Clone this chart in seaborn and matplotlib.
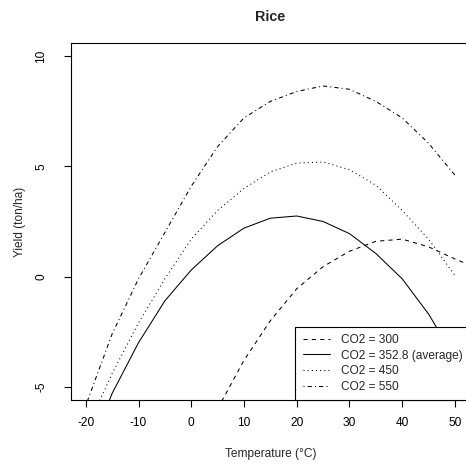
import numpy as np
import pandas as pd
import matplotlib
matplotlib.use("Agg")
import matplotlib.pyplot as plt
import seaborn as sns

# temperatura (°C) y rendimiento (ton/ha)
temp = [-20, -15, -10, -5, 0, 5, 10, 15, 20, 25, 30, 35, 40, 45, 50]
temp_300 = [5, 10, 15, 20, 25, 30, 35, 40, 45, 50, 55]

yield_300 = [-6.0, -3.8, -2.0, -0.55, 0.45, 1.15, 1.6, 1.7, 1.35, 0.8, 0.3]
yield_avg = [-8.3, -5.3, -3.0, -1.1, 0.3, 1.4, 2.2, 2.65, 2.75, 2.5, 1.95, 1.05, -0.1, -1.7, -3.7]
yield_450 = [-7.0, -4.4, -2.1, -0.1, 1.7, 3.0, 4.0, 4.75, 5.15, 5.2, 4.85, 4.15, 3.0, 1.7, 0.05]
yield_550 = [-5.85, -2.6, -0.1, 2.0, 4.1, 5.9, 7.2, 7.95, 8.4, 8.65, 8.5, 7.95, 7.2, 6.05, 4.6]

etiquetas = ["CO2 = 300", "CO2 = 352.8 (average)", "CO2 = 450", "CO2 = 550"]

series = [(temp_300, yield_300, (0, (4, 4))),
          (temp, yield_avg, "-"),
          (temp, yield_450, (0, (1, 3))),
          (temp, yield_550, (0, (1, 3, 4, 3)))]

sns.set_theme(style="ticks")
plt.rcParams["font.family"] = ["Liberation Sans", "DejaVu Sans"]
plt.rcParams["axes.unicode_minus"] = False

fig = plt.figure(figsize=(4.66, 4.65), dpi=100)
ax = fig.add_axes([71 / 466, 1 - 400 / 465, (469.7 - 71) / 466, (400 - 43) / 465])

for (x, y, ls), lab in zip(series, etiquetas):
    df = pd.DataFrame({"Temp": x, "Yield": y})
    sns.lineplot(data=df, x="Temp", y="Yield", ax=ax, color="black",
                 linewidth=0.75, linestyle=ls, label=lab)

ax.set_xlim(-22.8, 52.8)
ax.set_ylim(-5.6, 10.6)
ax.set_xticks([-20, -10, 0, 10, 20, 30, 40, 50])
ax.set_yticks([-5, 0, 5, 10])
ax.set_yticklabels(["-5", "0", "5", "10"], rotation=90, va="center")

for s in ax.spines.values():
    s.set_visible(True)
    s.set_color("black")
    s.set_linewidth(0.8)

ax.tick_params(axis="both", direction="out", length=5, width=0.8,
               labelsize=8.6, colors="black")
ax.tick_params(axis="x", pad=7)
ax.tick_params(axis="y", pad=12)

ax.set_xlabel("Temperature (°C)", fontsize=8.6, labelpad=14)
ax.set_ylabel("Yield (ton/ha)", fontsize=8.6, labelpad=7)
ax.set_title("Rice", fontsize=10.4, fontweight="bold", pad=16)

leg = ax.legend(loc="lower right", bbox_to_anchor=(1, 0), borderaxespad=0,
                fontsize=8.6, frameon=True, fancybox=False, handlelength=2.3,
                handletextpad=0.9, labelspacing=0.3, borderpad=0.6)
leg.get_frame().set_edgecolor("black")
leg.get_frame().set_linewidth(0.8)
leg.get_frame().set_alpha(1)

fig.savefig("out.png", dpi=100)
